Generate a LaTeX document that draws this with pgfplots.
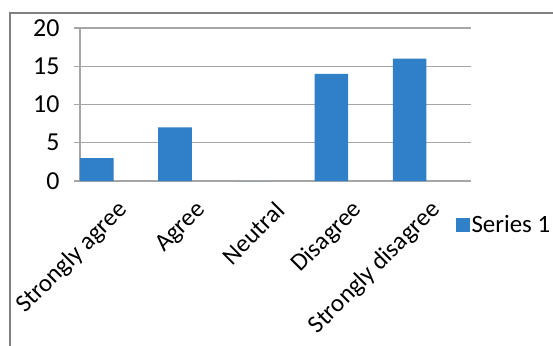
\documentclass[border=0pt]{standalone}
\usepackage{fontspec}
\setmainfont{Carlito}
\usepackage{pgfplots}
\pgfplotsset{compat=1.18}
\definecolor{barblue}{HTML}{2F80C6}
\definecolor{gridgray}{HTML}{A6A6A6}
\definecolor{framegray}{HTML}{808080}
\begin{document}
\begin{tikzpicture}
\useasboundingbox (-80bp,-165bp) rectangle (473bp,181bp);
\fill[white] (-80bp,-165bp) rectangle (473bp,181bp);
\draw[framegray, line width=2bp] (-70bp,-166bp) -- (-70bp,168bp) -- (474bp,168bp);
\begin{axis}[
  at={(0,0)}, anchor=south west,
  scale only axis, width=391bp, height=153bp,
  xmin=0, xmax=5, ymin=0, ymax=20,
  axis x line*=bottom, axis y line*=left,
  separate axis lines,
  axis line style={gridgray, line width=1.3bp, -},
  ytick={0,5,10,15,20},
  ymajorgrids, grid style={gridgray, line width=1.3bp},
  xtick={0.5,1.5,2.5,3.5,4.5},
  xticklabels={Strongly agree,Agree,Neutral,Disagree,Strongly disagree},
  major x tick style={draw=none},
  extra x ticks={0,1,2,3,4,5},
  extra x tick labels={},
  extra x tick style={tick style={gridgray, line width=1.3bp}, major tick length=6bp, tick align=outside, grid=none},
  y tick style={gridgray, line width=1.3bp},
  tick align=outside, major tick length=6bp,
  /pgf/number format/assume math mode=true,
  yticklabel style={font=\fontsize{26}{28}\selectfont, xshift=-11bp},
  xticklabel style={font=\fontsize{25}{27}\selectfont, xshift=7bp, yshift=-17bp, rotate=45, anchor=east},
  legend style={at={(0.96,-0.288)}, anchor=west, draw=none, fill=none, inner sep=0pt,
    font=\fontsize{25}{27}\selectfont, legend cell align=left,
    /tikz/every even column/.append style={column sep=0pt}},
  legend image code/.code={\fill[barblue] (0bp,-7bp) rectangle (14bp,7bp);},
]
\addplot[ybar, bar width=0.43, bar shift=0pt, fill=barblue, draw=none]
  coordinates {(0.215,3) (1.215,7) (2.215,0) (3.215,14) (4.215,16)};
\addlegendentry{Series 1}
\end{axis}
\end{tikzpicture}
\end{document}
